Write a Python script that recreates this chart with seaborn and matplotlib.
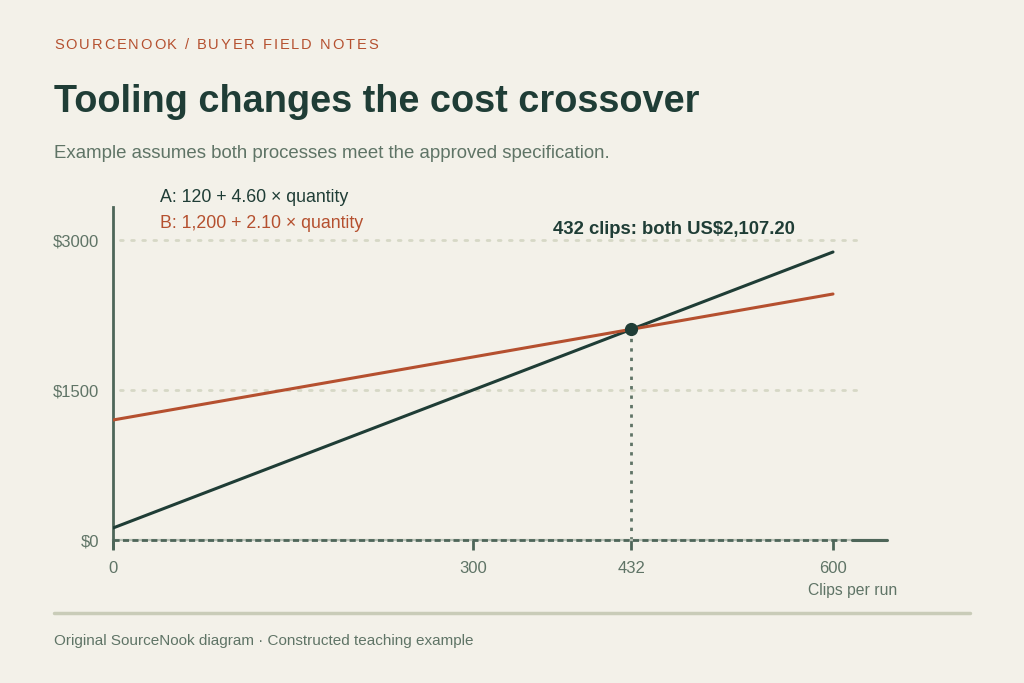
import matplotlib
matplotlib.use("Agg")
import matplotlib.pyplot as plt
import seaborn as sns
import pandas as pd

# ---- data ----
quantity = [0, 600]
cost_a = [120, 2880]
cost_b = [1200, 2460]
cross_qty = 432
cross_cost = 2107.20
x_ticks = [0, 300, 432, 600]
x_ticklabels = ["0", "300", "432", "600"]
y_ticks = [0, 1500, 3000]
y_ticklabels = ["$0", "$1500", "$3000"]
label_a = "A: 120 + 4.60 × quantity"
label_b = "B: 1,200 + 2.10 × quantity"

BG = "#F3F1E9"
DARK = "#1F3D36"
ORANGE = "#B5502F"
MUTED = "#5F7466"
SPINE = "#4E6659"
GRID = "#D6D8C6"

sns.set_theme(style="white")
plt.rcParams["font.family"] = ["Liberation Sans", "DejaVu Sans"]

fig = plt.figure(figsize=(10.24, 6.83), dpi=100, facecolor=BG)
ax = fig.add_axes([113/1024, 1 - 540/683, 774/1024, 333/683])
ax.set_facecolor(BG)

df = pd.DataFrame({
    "quantity": quantity + quantity,
    "cost": cost_a + cost_b,
    "process": ["A"] * len(quantity) + ["B"] * len(quantity),
})
sns.lineplot(data=df, x="quantity", y="cost", hue="process",
             palette={"A": DARK, "B": ORANGE}, linewidth=2.2, ax=ax,
             legend=False, zorder=4)

ax.set_xlim(0, 645)
ax.set_ylim(0, 3330)

# grid lines (dotted)
for yv in y_ticks[1:]:
    ax.plot([6, 622], [yv, yv], linestyle=(0, (1, 3)), color=GRID,
            linewidth=2, zorder=1, solid_capstyle="round", dash_capstyle="round")

# zero baseline: dashed dark over a lighter rule, solid tail
ax.plot([0, 612], [0, 0], linestyle=(0, (2.2, 1.2)), color=SPINE, linewidth=2,
        zorder=3, clip_on=False)
ax.plot([616, 645], [0, 0], linestyle="-", color=SPINE, linewidth=2.2,
        zorder=3, clip_on=False)

# vertical dotted line from crossover
ax.plot([cross_qty, cross_qty], [0, cross_cost], linestyle=(0, (1.2, 2.2)),
        color=MUTED, linewidth=2, zorder=2)
ax.plot([cross_qty], [cross_cost], marker="o", markersize=8.5, color=DARK, zorder=6)

# spines
for s in ["top", "right"]:
    ax.spines[s].set_visible(False)
ax.spines["left"].set_color(SPINE)
ax.spines["left"].set_linewidth(2)
ax.spines["bottom"].set_color("#B9C1B6")
ax.spines["bottom"].set_linewidth(1.6)
ax.spines["left"].set_bounds(-80, 3330)
ax.spines["bottom"].set_zorder(2)

ax.set_xticks(x_ticks)
ax.set_xticklabels(x_ticklabels)
ax.set_yticks(y_ticks)
ax.set_yticklabels(y_ticklabels)
ax.tick_params(axis="x", length=7, width=2, color=SPINE, labelsize=12,
               labelcolor=MUTED, pad=8, direction="out", bottom=True)
ax.tick_params(axis="y", length=0, labelsize=12, labelcolor=MUTED, pad=10, left=False)
ax.set_xlabel("")
ax.set_ylabel("")

# legend-like text
fig.text(160/1024, 1 - 197/683, label_a, color=DARK, fontsize=12.8, va="center", ha="left")
fig.text(160/1024, 1 - 224/683, label_b, color=ORANGE, fontsize=12.8, va="center", ha="left")

# annotation
fig.text(553/1024, 1 - 230/683, "432 clips: both US$2,107.20", color=DARK,
         fontsize=13.3, fontweight="bold", va="center", ha="left")

# axis title
fig.text(897/1024, 1 - 591/683, "Clips per run", color=MUTED, fontsize=11.3,
         va="center", ha="right")

# header with letter spacing
renderer = fig.canvas.get_renderer()
header = "SOURCENOOK / BUYER FIELD NOTES"
xpix = 54
track = 1.9
for ch in header:
    t = fig.text(xpix/1024, 1 - 45/683, ch, color=ORANGE, fontsize=10.5,
                 va="center", ha="left")
    if ch == " ":
        w = 10.5 * 100/72 * 0.278
    else:
        w = t.get_window_extent(renderer=renderer).width
    xpix += w + track

fig.text(54/1024, 1 - 102/683, "Tooling changes the cost crossover", color=DARK,
         fontsize=27.3, fontweight="bold", va="center", ha="left")
fig.text(54/1024, 1 - 153/683, "Example assumes both processes meet the approved specification.",
         color=MUTED, fontsize=13.4, va="center", ha="left")

# footer rule and text
fig.add_artist(plt.Line2D([54/1024, 970/1024], [1 - 613/683, 1 - 613/683],
                          color="#C9CCB8", linewidth=2.5, transform=fig.transFigure))
fig.text(54/1024, 1 - 641/683, "Original SourceNook diagram · Constructed teaching example",
         color=MUTED, fontsize=11.0, va="center", ha="left")

fig.savefig("out.png", dpi=100, facecolor=BG)
